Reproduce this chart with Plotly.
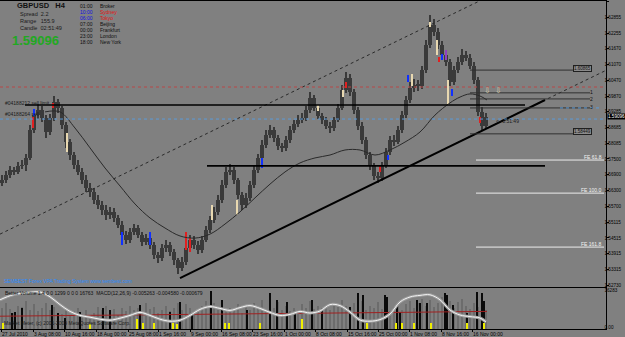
import plotly.graph_objects as go

W, H = 625, 337


def px(x):
    return x / W


def py(y):
    return 1 - y / H


FONT = "Liberation Sans, Arial, sans-serif"

# ---------------- price data (H4 candles, one every 4 bars) ----------------
bar_x = list(range(2, 487, 4))
first_open = 1.5660
close = [
    1.5671, 1.5689, 1.5708, 1.5701, 1.5724, 1.5727,
    1.5754, 1.5860, 1.5916, 1.5935, 1.5905, 1.5852, 1.5905, 1.5965, 1.5943, 1.5879,
    1.5814, 1.5765, 1.5727, 1.5701, 1.5671, 1.5640, 1.5625, 1.5595, 1.5576, 1.5557,
    1.5538, 1.5550, 1.5527, 1.5501, 1.5463, 1.5444, 1.5474, 1.5489, 1.5463, 1.5436,
    1.5451, 1.5425, 1.5387, 1.5376, 1.5414, 1.5425, 1.5398, 1.5368, 1.5338, 1.5361,
    1.5414, 1.5444, 1.5425, 1.5406, 1.5444, 1.5482, 1.5519, 1.5550, 1.5595, 1.5652,
    1.5701, 1.5708, 1.5671, 1.5614, 1.5576, 1.5603, 1.5652, 1.5708, 1.5754, 1.5803,
    1.5841, 1.5860, 1.5829, 1.5799, 1.5792, 1.5822, 1.5860, 1.5882, 1.5897, 1.5905,
    1.5935, 1.5981, 1.5943, 1.5913, 1.5897, 1.5875, 1.5867, 1.5897, 1.5943, 1.6011,
    1.6056, 1.6003, 1.5935, 1.5875, 1.5822, 1.5765, 1.5724, 1.5686, 1.5678, 1.5727,
    1.5776, 1.5822, 1.5814, 1.5860, 1.5916, 1.5973, 1.6018, 1.6030, 1.6026, 1.6086,
    1.6181, 1.6257, 1.6230, 1.6181, 1.6143, 1.6117, 1.6041, 1.6086, 1.6117, 1.6143,
    1.6132, 1.6102, 1.6049, 1.5928, 1.5875, 1.5910,
]
high = [
    1.5690, 1.5705, 1.5722, 1.5720, 1.5738, 1.5745,
    1.5768, 1.5878, 1.5932, 1.5958, 1.5950, 1.5915, 1.5920, 1.5990, 1.5978, 1.5952,
    1.5890, 1.5825, 1.5778, 1.5745, 1.5715, 1.5690, 1.5660, 1.5640, 1.5612, 1.5590,
    1.5575, 1.5568, 1.5566, 1.5540, 1.5515, 1.5478, 1.5490, 1.5505, 1.5500, 1.5475,
    1.5468, 1.5465, 1.5438, 1.5400, 1.5430, 1.5442, 1.5438, 1.5410, 1.5375, 1.5378,
    1.5430, 1.5462, 1.5458, 1.5440, 1.5460, 1.5498, 1.5535, 1.5568, 1.5612, 1.5670,
    1.5718, 1.5730, 1.5720, 1.5680, 1.5625, 1.5620, 1.5668, 1.5722, 1.5770, 1.5820,
    1.5858, 1.5880, 1.5872, 1.5840, 1.5812, 1.5838, 1.5875, 1.5898, 1.5915, 1.5922,
    1.5950, 1.6005, 1.5992, 1.5955, 1.5925, 1.5908, 1.5888, 1.5910, 1.5958, 1.6028,
    1.6080, 1.6070, 1.6015, 1.5945, 1.5888, 1.5835, 1.5778, 1.5735, 1.5700, 1.5740,
    1.5790, 1.5838, 1.5840, 1.5875, 1.5932, 1.5990, 1.6040, 1.6052, 1.6048, 1.6100,
    1.6200, 1.6295, 1.6280, 1.6245, 1.6195, 1.6160, 1.6128, 1.6100, 1.6135, 1.6165,
    1.6160, 1.6145, 1.6115, 1.6060, 1.5945, 1.5925,
]
low = [
    1.5648, 1.5660, 1.5680, 1.5688, 1.5692, 1.5712,
    1.5705, 1.5745, 1.5850, 1.5902, 1.5890, 1.5830, 1.5840, 1.5895, 1.5925, 1.5865,
    1.5790, 1.5748, 1.5712, 1.5688, 1.5655, 1.5625, 1.5608, 1.5580, 1.5560, 1.5540,
    1.5520, 1.5525, 1.5512, 1.5488, 1.5450, 1.5428, 1.5432, 1.5462, 1.5450, 1.5420,
    1.5425, 1.5410, 1.5372, 1.5358, 1.5365, 1.5400, 1.5385, 1.5350, 1.5315, 1.5325,
    1.5350, 1.5405, 1.5410, 1.5392, 1.5395, 1.5435, 1.5470, 1.5508, 1.5540, 1.5585,
    1.5640, 1.5690, 1.5655, 1.5598, 1.5558, 1.5565, 1.5592, 1.5640, 1.5698, 1.5745,
    1.5792, 1.5830, 1.5815, 1.5785, 1.5775, 1.5780, 1.5810, 1.5848, 1.5870, 1.5885,
    1.5895, 1.5925, 1.5930, 1.5900, 1.5882, 1.5862, 1.5850, 1.5855, 1.5888, 1.5935,
    1.6000, 1.5990, 1.5920, 1.5860, 1.5808, 1.5750, 1.5710, 1.5670, 1.5660, 1.5668,
    1.5715, 1.5765, 1.5800, 1.5805, 1.5850, 1.5905, 1.5962, 1.6005, 1.6008, 1.6015,
    1.6075, 1.6170, 1.6215, 1.6165, 1.6128, 1.6100, 1.6025, 1.6030, 1.6075, 1.6105,
    1.6120, 1.6090, 1.6035, 1.5912, 1.5855, 1.5865,
]
assert len(bar_x) == len(close) == len(high) == len(low)
opens = [first_open] + close[:-1]

# highlighted (signal-coloured) candles: bar, low, high, colour
hl_x = [33, 34, 53, 67, 122, 150, 186, 190, 212, 237, 262, 318, 343, 346, 380, 388,
        408, 412, 430, 437, 439, 442, 446, 448, 452, 480]
hl_low = [1.5867, 1.5913, 1.5943, 1.5776, 1.5425, 1.5425, 1.5406, 1.5398, 1.5519, 1.5538,
          1.5716, 1.5931, 1.5984, 1.6018, 1.5701, 1.5746, 1.6041, 1.6026, 1.6249, 1.6143,
          1.6117, 1.6124, 1.6124, 1.5954, 1.5988, 1.5886]
hl_high = [1.5909, 1.5939, 1.5962, 1.5848, 1.5474, 1.5474, 1.5474, 1.5451, 1.5576, 1.5595,
           1.5754, 1.5954, 1.6011, 1.6041, 1.5727, 1.5765, 1.6067, 1.6071, 1.6268, 1.6200,
           1.6136, 1.6147, 1.6162, 1.6049, 1.6015, 1.5909]
hl_col = ["red", "blue", "red", "tan", "blue", "blue", "red", "red", "tan", "tan",
          "blue", "tan", "tan", "red", "red", "blue", "blue", "tan", "tan", "tan",
          "red", "blue", "purple", "tan", "blue", "red"]
COLMAP = {"red": "#e02020", "blue": "#1030ff", "tan": "#e8d8b0", "purple": "#9040c0"}

# moving average
ma_x = [45, 60, 75, 90, 105, 120, 135, 150, 165, 180, 195, 210, 225, 240, 255, 270,
        285, 300, 315, 330, 345, 360, 375, 390, 405, 420, 435, 450, 460, 470, 480, 487]
ma_y = [1.5928, 1.5928, 1.5867, 1.5792, 1.5716, 1.5648, 1.5580, 1.5527, 1.5489, 1.5459,
        1.5451, 1.5466, 1.5504, 1.5550, 1.5603, 1.5655, 1.5701, 1.5735, 1.5754, 1.5765,
        1.5784, 1.5784, 1.5765, 1.5784, 1.5814, 1.5852, 1.5916, 1.5962, 1.5984, 1.5996,
        1.5988, 1.5973]

# trend lines
trend_x = [180, 545]
trend_y = [1.5300, 1.5973]
trend_ext_x = [440, 606]
trend_ext_y = [1.5780, 1.6085]
chan_x = [0, 481]
chan_y = [1.5466, 1.6350]

# horizontal levels
thick_levels = [(1.5954, 25, 525), (1.5724, 207, 545)]
thin_levels = [1.6086, 1.6000, 1.5977, 1.5943, 1.5845]
fe_levels = [1.5746, 1.5621, 1.5417]
fe_names = ["FE 61.8", "FE 100.0", "FE 161.8"]
red_dot_level = 1.6022
blue_dot_level = 1.5901
blue_dot_level2 = 1.5943
current_price = 1.59096

# axis ticks
y_ticks = [1.52730, 1.53315, 1.53915, 1.54515, 1.55115, 1.55700, 1.56300, 1.56900,
           1.57500, 1.58085, 1.58685, 1.59285, 1.59870, 1.60470, 1.61070, 1.61670,
           1.62255, 1.62855, 1.63455]
x_tick_pos = [1, 33, 64, 96, 128, 158, 190, 221, 252, 284, 315, 347, 378, 409, 441, 472]
x_tick_lab = ["27 Jul 2010", "3 Aug 08:00", "10 Aug 16:00", "18 Aug 00:00", "25 Aug 08:00",
              "1 Sep 16:00", "9 Sep 00:00", "16 Sep 08:00", "23 Sep 16:00", "1 Oct 00:00",
              "8 Oct 08:00", "15 Oct 16:00", "25 Oct 00:00", "1 Nov 08:00", "8 Nov 16:00",
              "16 Nov 00:00"]

# ---------------- indicator window ----------------
grey_vol = [
    9000, 11000, 8500, 7000, 10000, 9500, 12000, 8000, 10500, 7500,
    9000, 11000, 8000, 9500, 7000, 6500, 8000, 6000, 7500, 9000,
    6500, 8000, 5500, 7000, 9500, 8000, 10000, 7000, 8500, 6000,
    9000, 7500, 10000, 8000, 9000, 7000, 11000, 8500, 9500, 7000,
    8000, 10000, 7500, 9000, 11000, 8000, 10500, 9000, 7500, 8500,
    10000, 12000, 9000, 11000, 8000, 10000, 7500, 9000, 8000, 10500,
    7000, 9500, 8000, 11000, 9000, 12500, 8500, 10000, 9000, 11500,
    8000, 10000, 7500, 9000, 8000, 10500, 9000, 12000, 8500, 10000,
    7500, 9000, 8000, 11000, 9500, 12500, 10000, 8500, 11000, 9000,
    12000, 8000, 10000, 9000, 11500, 8500, 10000, 7500, 9500, 11000,
    8000, 10500, 12000, 9000, 11000, 13000, 10000, 12500, 9500, 11000,
    13500, 10000, 12000, 9000, 11500, 13000, 10000, 8500, 11000, 9500,
    12000, 8000,
]
assert len(grey_vol) == len(bar_x)
black_x = [12, 15, 22, 52, 58, 65, 80, 103, 110, 140, 170, 180, 192, 211, 222, 247, 270,
           277, 287, 295, 312, 322, 350, 358, 363, 385, 387, 397, 400, 417, 420, 427, 445,
           447, 453, 467, 477, 482, 484]
black_vol = [6800, 7300, 9000, 10200, 6800, 4700, 7300, 9000, 8100, 10200, 7300, 11500,
             6800, 16283, 12400, 8100, 15400, 12400, 11500, 6800, 12400, 9000, 9400, 15400,
             14500, 14500, 13700, 10200, 7300, 12400, 11100, 11100, 15400, 14500, 10200,
             6800, 15800, 15400, 12000]
yellow_x = [3, 90, 137, 143, 154, 173, 177, 225, 229, 260, 302, 367, 396, 402, 414, 431,
            467, 484]
yellow_vol = [2500, 2300, 4200, 2600, 2400, 2600, 2300, 2600, 2400, 2500, 4200, 2500,
              2600, 2400, 2500, 2600, 2500, 2400]
vol_ticks = [16283, 900]
vol_tick_text = ["16283", "0.00"]
macd_x = [0, 13, 27, 40, 50, 60, 70, 80, 90, 100, 110, 120, 130, 140, 150, 160, 170, 180,
          190, 200, 210, 220, 230, 240, 250, 260, 270, 280, 290, 300, 310, 320, 330, 340,
          350, 360, 370, 380, 390, 400, 410, 420, 430, 440, 450, 460, 470, 480, 486]
macd_y = [0.0041, 0.0066, 0.0076, 0.0080, 0.0056, 0.0017, -0.0017, -0.0037, -0.0046,
          -0.0056, -0.0061, -0.0051, -0.0037, -0.0022, -0.0037, -0.0056, -0.0066, -0.0061,
          -0.0037, -0.0007, 0.0007, -0.0002, -0.0012, 0.0002, 0.0012, -0.0002, -0.0022,
          -0.0037, -0.0032, -0.0017, -0.0025, -0.0015, 0.0017, 0.0012, -0.0020, -0.0060,
          -0.0066, -0.0058, -0.0030, 0.0030, 0.0055, 0.0063, 0.0066, 0.0041, -0.0010,
          -0.0035, -0.0043, -0.0050, -0.0070]
sig_x = [0, 100, 200, 300, 400, 487]
sig_y = [-0.0041, -0.0037, -0.0032, -0.0027, -0.0022, -0.0017]

# ---------------- figure ----------------
fig = go.Figure()
CANDLE = "#3a3a3a"

# wicks
fig.add_trace(go.Bar(x=bar_x, y=[h - l for h, l in zip(high, low)], base=low, width=1.3,
                     marker=dict(color=CANDLE, line=dict(width=0)), xaxis="x", yaxis="y"))
# bodies
fig.add_trace(go.Bar(x=bar_x, y=[max(abs(c - o), 0.0003) for o, c in zip(opens, close)],
                     base=[min(o, c) for o, c in zip(opens, close)], width=3.4,
                     marker=dict(color=CANDLE, line=dict(width=0)), xaxis="x", yaxis="y"))
# highlighted candles
fig.add_trace(go.Bar(x=hl_x, y=[h - l for h, l in zip(hl_high, hl_low)], base=hl_low, width=2,
                     marker=dict(color=[COLMAP[c] for c in hl_col], line=dict(width=0)),
                     xaxis="x", yaxis="y"))

# MA
fig.add_trace(go.Scatter(x=ma_x, y=ma_y, mode="lines", line=dict(color="#2a2a2a", width=1),
                         line_shape="spline", xaxis="x", yaxis="y"))
# channel dotted lines
fig.add_trace(go.Scatter(x=chan_x, y=chan_y, mode="lines",
                         line=dict(color="#2a2a2a", width=1, dash="dot"), xaxis="x", yaxis="y"))
fig.add_trace(go.Scatter(x=trend_ext_x, y=trend_ext_y, mode="lines",
                         line=dict(color="#2a2a2a", width=1, dash="dot"), xaxis="x", yaxis="y"))
# main trend line
fig.add_trace(go.Scatter(x=trend_x, y=trend_y, mode="lines",
                         line=dict(color="#000000", width=2), xaxis="x", yaxis="y"))
# horizontal levels
for lev, x0, x1 in thick_levels:
    fig.add_trace(go.Scatter(x=[x0, x1], y=[lev, lev], mode="lines",
                             line=dict(color="#000000", width=1.6), xaxis="x", yaxis="y"))
for lev in thin_levels:
    fig.add_trace(go.Scatter(x=[470, 590], y=[lev, lev], mode="lines",
                             line=dict(color="#303030", width=1), xaxis="x", yaxis="y"))
for lev in fe_levels:
    fig.add_trace(go.Scatter(x=[476, 604], y=[lev, lev], mode="lines",
                             line=dict(color="#ececec", width=1), xaxis="x", yaxis="y"))
fig.add_trace(go.Scatter(x=[0, 606], y=[red_dot_level] * 2, mode="lines",
                         line=dict(color="#b84848", width=1, dash="dot"), xaxis="x", yaxis="y"))
fig.add_trace(go.Scatter(x=[0, 606], y=[blue_dot_level] * 2, mode="lines",
                         line=dict(color="#5a9ad8", width=1, dash="dot"), xaxis="x", yaxis="y"))
fig.add_trace(go.Scatter(x=[560, 600], y=[blue_dot_level2] * 2, mode="lines",
                         line=dict(color="#5a9ad8", width=1, dash="dot"), xaxis="x", yaxis="y"))

# indicator window
fig.add_trace(go.Bar(x=bar_x, y=grey_vol, width=2.5, marker=dict(color="#6c6c6c", line=dict(width=0)),
                     xaxis="x2", yaxis="y2"))
fig.add_trace(go.Bar(x=black_x, y=black_vol, width=1.6, marker=dict(color="#0a0a0a", line=dict(width=0)),
                     xaxis="x2", yaxis="y2"))
fig.add_trace(go.Bar(x=yellow_x, y=yellow_vol, width=1.6, marker=dict(color="#f0f000", line=dict(width=0)),
                     xaxis="x2", yaxis="y2"))
fig.add_trace(go.Scatter(x=sig_x, y=sig_y, mode="lines", line=dict(color="#a02020", width=1),
                         xaxis="x2", yaxis="y3"))
fig.add_trace(go.Scatter(x=macd_x, y=macd_y, mode="lines", line=dict(color="#9c9c9c", width=3),
                         line_shape="spline", xaxis="x2", yaxis="y3"))
fig.add_trace(go.Scatter(x=macd_x, y=macd_y, mode="lines", line=dict(color="#f4f4f4", width=1),
                         line_shape="spline", xaxis="x2", yaxis="y3"))

# invisible carriers for the label-only axes
fig.add_trace(go.Scatter(x=[bar_x[-1]], y=[close[-1]], mode="markers", opacity=0,
                         marker=dict(size=1), xaxis="x", yaxis="y4", hoverinfo="skip"))
fig.add_trace(go.Scatter(x=[bar_x[-1]], y=[grey_vol[-1]], mode="markers", opacity=0,
                         marker=dict(size=1), xaxis="x2", yaxis="y5", hoverinfo="skip"))

XD = [0, 606 / W]
Y_MAIN = [1.52661, 1.63472]
Y_VOL = [0, 17500]
axis_common = dict(showgrid=False, zeroline=False, showline=True, linecolor="#000000",
                   linewidth=1, mirror=True, automargin=False)
label_axis = dict(showgrid=False, zeroline=False, showline=False, ticks="", automargin=False,
                  side="right", anchor="free", position=603.5 / W)
LBLFONT = dict(size=4.6, color="#000000", family=FONT)
fig.update_layout(
    width=W, height=H, margin=dict(l=0, r=0, t=0, b=0, autoexpand=False),
    paper_bgcolor="#808080", plot_bgcolor="#808080",
    showlegend=False, barmode="overlay", bargap=0,
    font=dict(family=FONT, size=5, color="#000000"),
    xaxis=dict(domain=XD, range=[0, 606], anchor="y", showticklabels=False, ticks="",
               **axis_common),
    yaxis=dict(domain=[py(287), py(1)], range=Y_MAIN, side="right", anchor="x",
               tickvals=y_ticks, showticklabels=False,
               ticks="outside", ticklen=2, tickcolor="#000000", **axis_common),
    yaxis4=dict(overlaying="y", range=Y_MAIN, tickvals=y_ticks,
                ticktext=[f"{v:.5f}" for v in y_ticks], tickfont=LBLFONT, **label_axis),
    xaxis2=dict(domain=XD, range=[0, 606], anchor="y2", matches="x",
                tickvals=x_tick_pos, ticktext=x_tick_lab, ticklabelposition="outside right",
                tickangle=0, ticks="outside", ticklen=2, tickcolor="#000000",
                tickfont=dict(size=5, color="#000000", family=FONT), **axis_common),
    yaxis2=dict(domain=[py(329), py(288)], range=Y_VOL, side="right", anchor="x2",
                showticklabels=False, ticks="", **axis_common),
    yaxis5=dict(overlaying="y2", range=Y_VOL, tickvals=vol_ticks, ticktext=vol_tick_text,
                tickfont=LBLFONT, **label_axis),
    yaxis3=dict(overlaying="y2", range=[-0.0105, 0.0100], visible=False, anchor="x2"),
)

ann = []


def txt(s, x, y, size=5, color="#000000", bold=False, xanchor="left", **kw):
    if bold:
        s = "<b>" + s + "</b>"
    ann.append(dict(text=s, x=px(x), y=py(y), xref="paper", yref="paper", showarrow=False,
                    xanchor=xanchor, yanchor="middle", font=dict(size=size, color=color, family=FONT),
                    **kw))


NB = "\u00a0"
txt("GBPUSD" + NB * 3 + "H4", 15, 6, size=7.5, color="#101010", bold=True)
txt("Spread" + NB * 2 + "2.2", 18, 14, size=5.5, color="#1a1a1a")
txt("Range" + NB * 3 + "155.9", 18, 21, size=5.5, color="#1a1a1a")
txt("Candle" + NB * 2 + "02:51:49", 18, 28, size=5.5, color="#1a1a1a")
txt("1.59096", 10, 40, size=13, color="#22a822", bold=True)

times = ["01:00", "10:00", "06:00", "07:00", "00:00", "23:00", "18:00"]
time_cols = ["#101010", "#1010e0", "#1010e0", "#101010", "#101010", "#101010", "#101010"]
cities = ["Broker", "Sydney", "Tokyo", "Beijing", "Frankfurt", "London", "New York"]
city_cols = ["#101010", "#e01010", "#e01010", "#101010", "#101010", "#101010", "#101010"]
for i in range(7):
    yy = 6 + i * 6
    txt(times[i], 78, yy, size=5, color=time_cols[i])
    txt(cities[i], 98, yy, size=5, color=city_cols[i])

txt("#04188212 sell limit", 3, 103, size=5, color="#1a1a1a")
txt("#04188264 sell", 3, 114, size=5, color="#1a1a1a")

txt("SEMBEST Forex VPA Trading System www.sembest.com", 2, 281, size=5, color="#2a8cff")
txt("Better Volume 1.4 0 0 1299 0 0 0 16763" + NB * 2 +
    "MACD(12,26,9) -0.005263 -0.004580 -0.000679", 3, 293, size=5, color="#101010")
txt("Market Meter, (c) 2001-2009 MetaQuotes Software Corp.", 2, 323, size=5, color="#1a1a1a")

txt("&lt;--3:51:49", 494, 121, size=5, color="#1a1a1a")
txt("\u21e9", 482, 90, size=8, color="#d8cfb0")
txt("\u21e9", 493, 90, size=8, color="#d8cfb0")

txt("1.60865", 582, 69, size=4.5, color="#101010", xanchor="center",
    bordercolor="#202020", borderwidth=1, borderpad=0, bgcolor="#8a8a8a")
txt("1.58449", 582, 131, size=4.5, color="#101010", xanchor="center",
    bordercolor="#202020", borderwidth=1, borderpad=0, bgcolor="#8a8a8a")
for lab, yy in zip(["1", "2", "3"], [92, 99, 107]):
    txt(lab, 588, yy, size=5, color="#101010")
for name, yy in zip(fe_names, [157, 190, 244]):
    txt(name, 604, yy, size=5, color="#f4f4f4", xanchor="right")

ann.append(dict(text="1.59096", x=607 / W, y=current_price, xref="paper", yref="y",
                showarrow=False, xanchor="left", yanchor="middle", bgcolor="#000000",
                borderpad=0, font=dict(size=4.6, color="#ffffff", family=FONT)))

fig.update_layout(annotations=ann)
fig.write_html("out.html", config={"displayModeBar": False})
